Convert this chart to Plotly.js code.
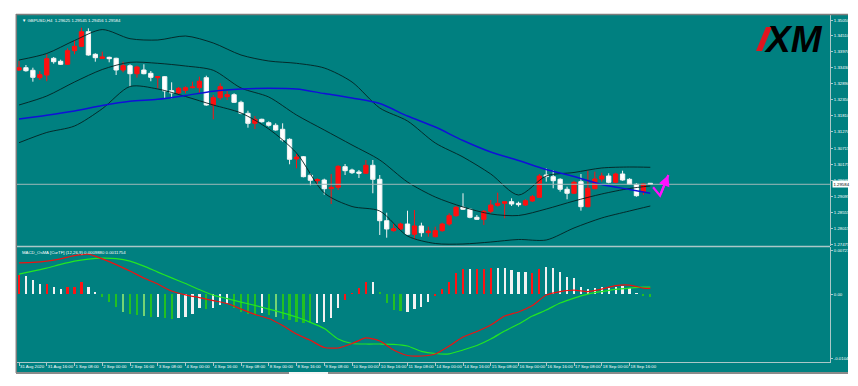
<!DOCTYPE html>
<html><head><meta charset="utf-8">
<script src="https://cdn.plot.ly/plotly-3.0.1.min.js"></script>
<style>html,body{margin:0;padding:0;background:#fff;}#chart{width:858px;height:386px;}</style>
</head><body><div id="chart"></div>
<script>
// ---------- DATA ----------
const chartTitle = "\u25BC GBPUSD,H4  1.29625 1.29545 1.29456 1.29584";
const macdTitle = "MACD_OsMA [CurTF] (12,26,9) 0.0009880 0.0011754";
const bidLabel = "1.29584";

const open = [1.33360,1.33438,1.33350,1.33100,1.33191,1.33755,1.33654,1.33553,1.34012,1.34161,
1.34655,1.33891,1.33755,1.33789,1.33755,1.33360,1.33505,1.33235,1.33360,1.33248,
1.33100,1.33134,1.32660,1.32583,1.32674,1.32762,1.32762,1.33100,1.32177,1.32424,
1.32458,1.32525,1.32268,1.31896,1.31558,1.31694,1.31579,1.31491,1.31356,1.31018,
1.30352,1.30429,1.29801,1.29618,1.29642,1.29348,1.29395,1.30092,1.29980,1.29912,
1.29869,1.30139,1.29666,1.28266,1.27929,1.27986,1.28155,1.27807,1.28088,1.27861,
1.27725,1.27929,1.28155,1.28435,1.28719,1.28652,1.28381,1.28313,1.28584,1.28787,
1.28854,1.28909,1.28854,1.28797,1.28932,1.29057,1.29811,1.29754,1.29666,1.29328,
1.29193,1.29585,1.28740,1.29348,1.29676,1.29777,1.29564,1.29845,1.29666,1.29497,
1.29247,1.29530];
const high = [1.33664,1.33529,1.33438,1.33326,1.33891,1.33799,1.33708,1.34093,1.34374,1.34790,
1.34769,1.33925,1.33979,1.33810,1.33776,1.33641,1.33553,1.33505,1.33553,1.33326,
1.33157,1.33157,1.32944,1.32785,1.32809,1.32965,1.33134,1.33167,1.32515,1.32911,
1.32650,1.32572,1.32322,1.31984,1.31805,1.31714,1.31626,1.31558,1.31558,1.31051,
1.30521,1.30453,1.29869,1.29700,1.29686,1.29845,1.30139,1.30183,1.30024,1.29980,
1.30318,1.30318,1.29811,1.28537,1.28155,1.28199,1.28604,1.28628,1.28199,1.28064,
1.28064,1.28199,1.28516,1.28763,1.29193,1.28686,1.28459,1.28628,1.28966,1.29213,
1.28932,1.29023,1.28909,1.28989,1.29135,1.29845,1.30037,1.29980,1.29700,1.29416,
1.29618,1.29845,1.29956,1.29923,1.29889,1.29869,1.29889,1.29956,1.29700,1.29530,
1.29530,1.29540];
const low = [1.33326,1.33302,1.32965,1.33022,1.32980,1.33573,1.33529,1.33529,1.33891,1.34137,
1.33843,1.33641,1.33732,1.33620,1.33191,1.33282,1.32796,1.33100,1.33215,1.32980,
1.32742,1.32404,1.32404,1.32549,1.32572,1.32742,1.32572,1.32153,1.31694,1.32346,
1.32346,1.32245,1.31863,1.31410,1.31366,1.31579,1.31444,1.31308,1.30937,1.30173,
1.30037,1.29733,1.29463,1.29473,1.29145,1.28831,1.29304,1.29811,1.29845,1.29710,
1.29845,1.29193,1.27783,1.27692,1.27895,1.27952,1.27783,1.27638,1.27725,1.27725,
1.27705,1.27895,1.28097,1.28402,1.28628,1.28348,1.28290,1.28121,1.28516,1.28740,
1.28348,1.28763,1.28740,1.28763,1.28899,1.29034,1.29585,1.29362,1.29247,1.28989,
1.29169,1.28605,1.28719,1.29328,1.29585,1.29530,1.29530,1.29618,1.29473,1.29077,
1.29135,1.29490];
const close = [1.33438,1.33336,1.33113,1.33201,1.33742,1.33641,1.33553,1.34012,1.34161,1.34655,
1.33867,1.33776,1.33799,1.33742,1.33360,1.33505,1.33235,1.33461,1.33235,1.33113,
1.33134,1.32650,1.32583,1.32742,1.32762,1.32785,1.32980,1.32177,1.32424,1.32796,
1.32525,1.32268,1.31896,1.31558,1.31694,1.31613,1.31491,1.31332,1.30994,1.30342,
1.30419,1.29754,1.29632,1.29652,1.29348,1.29395,1.30105,1.29957,1.29889,1.29869,
1.30139,1.29666,1.28266,1.27986,1.27996,1.28155,1.27807,1.28088,1.27861,1.27918,
1.27929,1.28155,1.28435,1.28719,1.28652,1.28381,1.28313,1.28584,1.28797,1.28854,
1.28909,1.28831,1.28807,1.28942,1.29077,1.29777,1.29754,1.29618,1.29328,1.29193,
1.29564,1.28740,1.29362,1.29676,1.29777,1.29564,1.29845,1.29642,1.29497,1.29111,
1.29507,1.29497];

const timeLabelIdx = [0,4,8,12,16,20,24,28,32,36,40,44,48,52,56,60,64,68,72,76,80,84,88];
const timeLabels = ["31 Aug 2020","31 Aug 16:00","1 Sep 08:00","2 Sep 00:00","2 Sep 16:00","3 Sep 08:00",
"4 Sep 00:00","4 Sep 16:00","7 Sep 08:00","8 Sep 00:00","8 Sep 16:00","9 Sep 08:00","10 Sep 00:00",
"10 Sep 16:00","11 Sep 08:00","14 Sep 00:00","14 Sep 16:00","15 Sep 08:00","16 Sep 00:00",
"16 Sep 16:00","17 Sep 08:00","18 Sep 00:00","18 Sep 16:00"];

const priceTicks = [1.35050,1.34510,1.33970,1.33430,1.32890,1.32350,1.31810,1.31270,1.30715,1.30175,1.29635,1.29095,1.28555,1.28015,1.27475];
const macdTicks = [0.007219,0.0,-0.010495];
const macdTickText = ["0.007219","0.00","-0.010495"];

// Bollinger bands and blue moving average, read at these bar indices
const bandIdx = [0,4,8,12,16,20,24,28,32,36,40,44,48,52,56,60,64,68,72,76,80,84,88,91];
const bbUpper = [1.33698,1.33918,1.34357,1.34726,1.34418,1.34374,1.34509,1.34273,1.33867,1.33664,1.33586,1.33428,
1.32954,1.32076,1.31636,1.30893,1.30419,1.29845,1.29135,1.29777,1.29896,1.30048,1.30081,1.30071];
const bbMiddle = [1.32177,1.32481,1.32954,1.33377,1.33620,1.33586,1.33495,1.33350,1.32752,1.32447,1.31839,1.31332,
1.30825,1.30318,1.29574,1.29067,1.28730,1.28493,1.28442,1.28662,1.28932,1.29169,1.29355,1.29440];
const bbLower = [1.30903,1.31248,1.31467,1.32051,1.32802,1.32718,1.32464,1.32177,1.31907,1.31366,1.30555,1.29203,
1.28746,1.28594,1.27749,1.27496,1.27479,1.27546,1.27631,1.27614,1.28020,1.28358,1.28594,1.28763];
const maBlue = [1.31704,1.31829,1.31974,1.32160,1.32306,1.32370,1.32498,1.32643,1.32718,1.32741,1.32718,1.32566,
1.32414,1.32228,1.31805,1.31433,1.30977,1.30588,1.30301,1.29997,1.29760,1.29490,1.29321,1.29193];

// MACD lines read at these bar indices
const macdIdx = [0,2,4,6,8,10,12,14,16,18,20,22,24,26,28,30,32,34,36,38,40,42,44,46,48,50,52,54,56,58,60,62,64,66,68,70,72,74,76,78,80,82,84,86,88,90,91];
const macdMain = [0.005182,0.005264,0.005461,0.005822,0.006363,0.006609,0.005822,0.004887,0.003821,0.002673,0.001689,0.000541,
-0.000082,-0.000525,-0.001017,-0.001509,-0.002411,-0.003313,-0.003969,-0.005117,-0.006511,-0.007544,-0.008725,-0.008807,
-0.008069,-0.007134,-0.007659,-0.009135,-0.010037,-0.010119,-0.009791,-0.008479,-0.007003,-0.006101,-0.005035,-0.003559,
-0.002903,-0.001837,-0.000115,0.000459,0.000705,0.000459,0.000869,0.001443,0.001525,0.001033,0.000988];
const macdSignal = [0.003329,0.003821,0.004313,0.004920,0.005461,0.005789,0.005953,0.005871,0.005461,0.004641,0.003657,0.002706,
0.001771,0.000787,-0.000115,-0.000689,-0.001263,-0.001820,-0.002411,-0.003034,-0.003723,-0.004592,-0.005609,-0.007331,
-0.008069,-0.008151,-0.008151,-0.008200,-0.008479,-0.009348,-0.009709,-0.009758,-0.009135,-0.008397,-0.007331,-0.006019,
-0.004871,-0.003559,-0.002575,-0.001427,-0.000607,0.000049,0.000459,0.000820,0.001033,0.001197,0.0011754];

// OsMA histogram, one value per bar, and its colour code per bar
const osma = [0.003165,0.003001,0.002345,0.001640,0.001640,0.001197,0.000820,0.001148,0.001246,0.001968,
0.001246,0.000426,-0.000492,-0.001214,-0.002034,-0.002854,-0.003231,-0.003395,-0.003559,-0.003772,
-0.003772,-0.003936,-0.004100,-0.003936,-0.003674,-0.003231,-0.002296,-0.002460,-0.002296,-0.001755,
-0.001591,-0.002296,-0.002854,-0.003231,-0.003395,-0.003116,-0.003395,-0.003772,-0.004100,-0.004215,
-0.004494,-0.004658,-0.004756,-0.004658,-0.004494,-0.003936,-0.002296,-0.000935,0.000262,0.001082,
0.002066,0.002066,0.000328,-0.001476,-0.002575,-0.002739,-0.002854,-0.002411,-0.002034,-0.001263,
-0.000279,0.000820,0.002066,0.003444,0.004100,0.004100,0.004100,0.004100,0.004264,0.004264,
0.004264,0.003985,0.003706,0.003608,0.003444,0.004149,0.004526,0.004362,0.003608,0.002788,
0.002624,0.001148,0.000820,0.000984,0.001246,0.001082,0.001246,0.001361,0.000984,0.000164,
-0.000279,-0.000394];
const osmaCode = "rwwwrwwrrrwwggglgglgwggwwwwgwwwggggwglgggggwwwwrrrrwggggwwwwrrrrrwrrrwwwwwrrwwwwwwwwwwwwwwgg";

// forecast arrow drawn on the chart (bar index, price)
const arrowIdx = [91.4, 92.4, 93.6];
const arrowPrice = [1.29395, 1.29111, 1.29811];

// ---------- CHART ----------
const barIdx = open.map((_, i) => i);
const codeColor = {r:'#ff1414', w:'#f2f2f2', g:'#22c022', l:'#74d474'};
const histColors = osmaCode.split('').map(c => codeColor[c]);
const lastClose = close[close.length - 1];

const W = 858, H = 386, L = 17, R = 830, T = 15, B = 362;
const px = x => (x - L) / (R - L);
const py = y => (B - y) / (B - T);

const teal = '#008080';
const axisCol = '#aac8c8';
const fontFam = 'Liberation Sans, Arial, sans-serif';
const tickFont = {family:fontFam, size:4.3, color:'#ffffff'};

const traces = [
  {type:'candlestick', x:barIdx, open:open, high:high, low:low, close:close,
   xaxis:'x', yaxis:'y', whiskerwidth:0, hoverinfo:'skip',
   increasing:{line:{color:'#ff1010', width:1}, fillcolor:'#ff1010'},
   decreasing:{line:{color:'#f4f4f4', width:1}, fillcolor:'#ffffff'}},
  {type:'scatter', mode:'lines', x:bandIdx, y:bbUpper, line:{color:'#042020', width:0.9, shape:'spline', smoothing:0.8}, xaxis:'x', yaxis:'y', hoverinfo:'skip'},
  {type:'scatter', mode:'lines', x:bandIdx, y:bbMiddle, line:{color:'#042020', width:0.9, shape:'spline', smoothing:0.8}, xaxis:'x', yaxis:'y', hoverinfo:'skip'},
  {type:'scatter', mode:'lines', x:bandIdx, y:bbLower, line:{color:'#042020', width:0.9, shape:'spline', smoothing:0.8}, xaxis:'x', yaxis:'y', hoverinfo:'skip'},
  {type:'scatter', mode:'lines', x:bandIdx, y:maBlue, line:{color:'#1010d8', width:1.4, shape:'spline', smoothing:0.8}, xaxis:'x', yaxis:'y', hoverinfo:'skip'},
  {type:'scatter', mode:'lines', x:arrowIdx, y:arrowPrice, line:{color:'#ff10ff', width:2.2}, xaxis:'x', yaxis:'y', hoverinfo:'skip'},
  {type:'bar', x:barIdx, y:osma, width:0.32, marker:{color:histColors, line:{width:0}}, xaxis:'x', yaxis:'y2', hoverinfo:'skip'},
  {type:'scatter', mode:'lines', x:macdIdx, y:macdSignal, line:{color:'#22e622', width:1.2, shape:'spline', smoothing:0.6}, xaxis:'x', yaxis:'y2', hoverinfo:'skip'},
  {type:'scatter', mode:'lines', x:macdIdx, y:macdMain, line:{color:'#f01010', width:1.2, shape:'spline', smoothing:0.6}, xaxis:'x', yaxis:'y2', hoverinfo:'skip'}
];

const layout = {
  width:W, height:H, margin:{l:L, r:W-R, t:T, b:H-B, pad:0},
  paper_bgcolor:'#ffffff', plot_bgcolor:'rgba(0,0,0,0)',
  showlegend:false, boxgap:0.38, boxgroupgap:0, bargap:0,
  xaxis:{range:[-0.29, 116.9], anchor:'y2', tickmode:'array', tickvals:timeLabelIdx, ticktext:timeLabels,
         ticks:'outside', ticklen:3, tickcolor:axisCol, tickwidth:1, tickangle:0,
         ticklabelposition:'outside right', tickfont:tickFont, showgrid:false, zeroline:false,
         showline:true, linecolor:axisCol, linewidth:1, rangeslider:{visible:false}, fixedrange:true},
  yaxis:{domain:[py(246), 1], range:[1.27411, 1.35219], side:'right', anchor:'x', tickmode:'array',
         tickvals:priceTicks, tickformat:'.5f', ticks:'outside', ticklen:2, tickcolor:axisCol,
         tickfont:tickFont, showgrid:false, zeroline:false, showline:true, linecolor:axisCol, linewidth:1, fixedrange:true},
  yaxis2:{domain:[0, py(247.2)], range:[-0.011103, 0.007741], side:'right', anchor:'x', tickmode:'array',
          tickvals:macdTicks, ticktext:macdTickText, ticks:'outside', ticklen:2, tickcolor:axisCol,
          tickfont:tickFont, showgrid:false, zeroline:false, showline:true, linecolor:axisCol, linewidth:1, fixedrange:true},
  shapes:[
    {type:'rect', xref:'paper', yref:'paper', x0:px(16), x1:px(848), y0:py(373), y1:py(14), fillcolor:teal, line:{width:0}, layer:'below'},
    {type:'line', xref:'paper', yref:'paper', x0:px(16), x1:px(848), y0:py(14.5), y1:py(14.5), line:{color:'#7c7c7c', width:1.5}},
    {type:'line', xref:'paper', yref:'paper', x0:px(16.3), x1:px(16.3), y0:py(373), y1:py(14), line:{color:'#7c7c7c', width:1.5}},
    {type:'line', xref:'paper', yref:'paper', x0:px(16), x1:px(848), y0:py(373), y1:py(373), line:{color:'#8a8a8a', width:2}},
    {type:'line', xref:'paper', yref:'paper', x0:px(289), x1:px(328), y0:py(373), y1:py(373), line:{color:'#f4f4f4', width:2}},
    {type:'line', xref:'paper', yref:'paper', x0:0, x1:1, y0:py(246.5), y1:py(246.5), line:{color:axisCol, width:1.5}},
    {type:'line', xref:'paper', yref:'y', x0:0, x1:1, y0:lastClose, y1:lastClose, line:{color:'#9fb8b8', width:1}},
    {type:'path', xref:'paper', yref:'paper',
     path:'M '+px(756)+','+py(51)+' L '+px(762)+','+py(51)+' L '+px(772)+','+py(27)+' L '+px(766)+','+py(27)+' Z',
     fillcolor:'#e0141e', line:{width:0}}
  ],
  annotations:[
    {xref:'paper', yref:'paper', x:px(20), y:py(20.5), xanchor:'left', yanchor:'middle', showarrow:false,
     text:chartTitle, font:{family:fontFam, size:4.3, color:'#ffffff'}},
    {xref:'paper', yref:'paper', x:px(20), y:py(252.5), xanchor:'left', yanchor:'middle', showarrow:false,
     text:macdTitle, font:{family:fontFam, size:4.3, color:'#ffffff'}},
    {xref:'paper', yref:'y', x:px(832), y:lastClose, xanchor:'left', yanchor:'middle', showarrow:false,
     text:bidLabel, bgcolor:'#ffffff', borderpad:0.5, font:{family:fontFam, size:4.3, color:'#000000'}},
    {xref:'paper', yref:'paper', x:px(793), y:py(39), xanchor:'center', yanchor:'middle', showarrow:false,
     text:'XM', font:{family:fontFam, size:37, color:'#000000', weight:'bold', style:'italic'}},
    {xref:'x', yref:'y', axref:'x', ayref:'y', x:arrowIdx[2], y:arrowPrice[2], ax:arrowIdx[1], ay:arrowPrice[1],
     showarrow:true, text:'', arrowhead:2, arrowsize:1, arrowwidth:2.2, arrowcolor:'#ff10ff', standoff:0}
  ]
};

Plotly.newPlot('chart', traces, layout, {displayModeBar:false, staticPlot:true});
</script></body></html>
